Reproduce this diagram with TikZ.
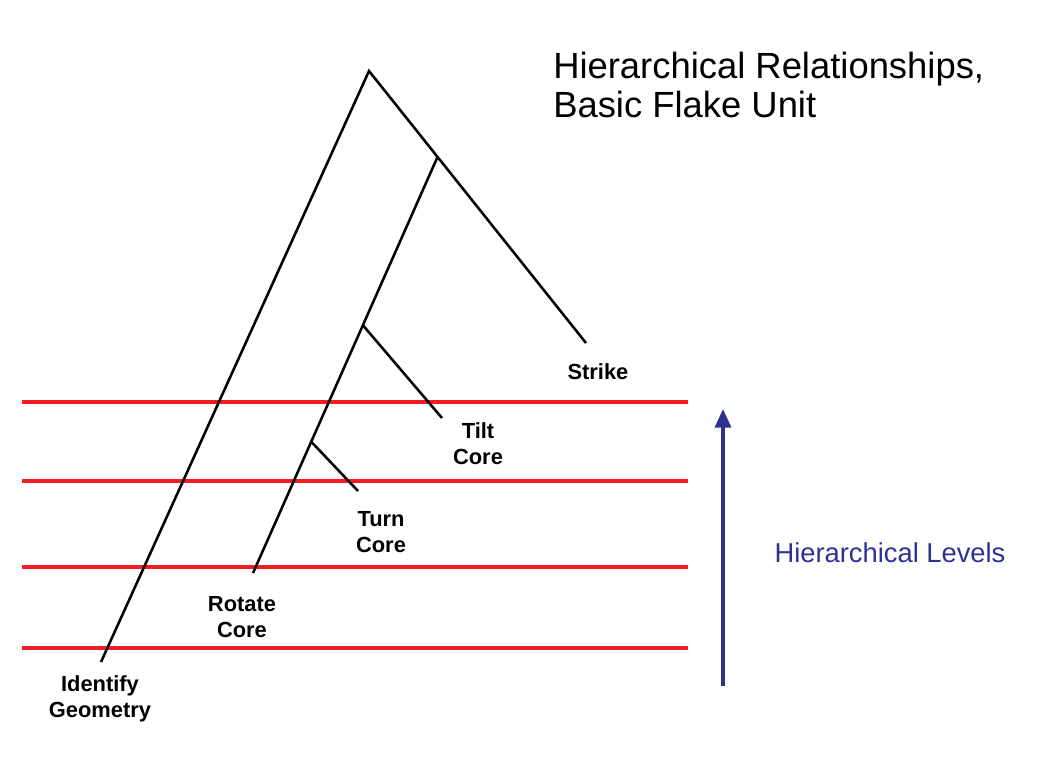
\documentclass[tikz,border=0pt]{standalone}
\usepackage{fontspec}
\setmainfont{Liberation Sans}
\usetikzlibrary{arrows.meta}
\definecolor{navy}{HTML}{2E3192}
\definecolor{levelred}{HTML}{F01E23}
\tikzset{
  branch/.style={draw=black, line width=1.9pt},
  level/.style={draw=levelred, line width=2.8pt},
  lbl/.style={font=\bfseries\fontsize{16.4}{19.5}\selectfont, align=center, inner sep=0pt},
  uparrow/.style={draw=navy, line width=2.6pt, -{Triangle[length=14pt,width=12pt]}}
}
\begin{document}
\begin{tikzpicture}[x=0.75pt,y=-0.75pt]
\useasboundingbox (0,0) rectangle (1041,763);
% levels
\draw[level] (22,402) -- (688,402);
\draw[level] (22,481) -- (688,481);
\draw[level] (22,567) -- (688,567);
\draw[level] (22,648) -- (688,648);
% tree coordinates
\coordinate (apex) at (369,71);
\coordinate (jmain) at (437.5,157);
\coordinate (jtilt) at (362.7,325);
\coordinate (jturn) at (311.5,442);
\coordinate (eident) at (101,662);
\coordinate (estrike) at (586,343);
\coordinate (erotate) at (253,573);
\coordinate (etilt) at (442,418);
\coordinate (eturn) at (358,491);
% branches
\draw[branch] (eident) -- (apex) -- (estrike);
\draw[branch] (jmain) -- (erotate);
\draw[branch] (jtilt) -- (etilt);
\draw[branch] (jturn) -- (eturn);
% labels
\node[lbl] (strike) at (598,372) {Strike};
\node[lbl] (tilt) at (478,444) {Tilt\\Core};
\node[lbl] (turn) at (381,532) {Turn\\Core};
\node[lbl] (rotate) at (242,617) {Rotate\\Core};
\node[lbl] (ident) at (100,699) {Identify\\Geometry};
% title
\node[font=\fontsize{27.3}{29}\selectfont, align=left, anchor=north west, inner sep=0pt] (title) at (553,52) {Hierarchical Relationships,\\Basic Flake Unit};
% levels arrow
\coordinate (abot) at (723,686);
\coordinate (atop) at (723,409);
\draw[uparrow] (abot) -- (atop);
\node[font=\fontsize{20.5}{24}\selectfont, text=navy, inner sep=0pt] (levels) at (890,553) {Hierarchical Levels};
\end{tikzpicture}
\end{document}
